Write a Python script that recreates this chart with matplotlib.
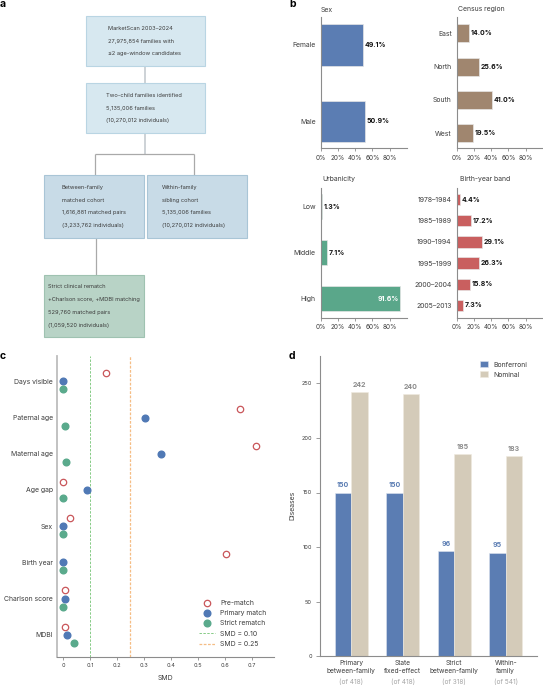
import matplotlib
matplotlib.use("Agg")
import matplotlib.pyplot as plt
from matplotlib.patches import Rectangle
from matplotlib.lines import Line2D
from matplotlib.transforms import IdentityTransform
import numpy as np

plt.rcParams['font.family'] = ['Inter', 'DejaVu Sans']
W, H = 543, 685
DPI = 100
FS = 4.95
FS_BOX = 4.08
FS_TICK = 4.6
FS_SMALL = 4.0
TXT = '#3c3c3c'
SPINE = '#8c8c8c'

# panel b data
sex_cats = ['Female', 'Male']
sex_vals = [49.1, 50.9]
region_cats = ['East', 'North', 'South', 'West']
region_vals = [14.0, 25.6, 41.0, 19.5]
urban_cats = ['Low', 'Middle', 'High']
urban_vals = [1.3, 7.1, 91.6]
birth_cats = ['1978–1984', '1985–1989', '1990–1994', '1995–1999', '2000–2004', '2005–2013']
birth_vals = [4.4, 17.2, 29.1, 26.3, 15.8, 7.3]

# panel c data
smd_cats = ['Days visible', 'Paternal age', 'Maternal age', 'Age gap', 'Sex', 'Birth year', 'Charlson score', 'MDBI']
smd_pre = [0.16, 0.655, 0.715, 0.0, 0.027, 0.603, 0.007, 0.007]
smd_primary = [0.0, 0.303, 0.363, 0.088, 0.0, 0.0, 0.007, 0.014]
smd_strict = [0.0, 0.009, 0.012, 0.0, 0.0, 0.0, 0.0, 0.042]

# panel d data
d_cats = ['Primary\nbetween-family', 'State\nfixed-effect', 'Strict\nbetween-family', 'Within-\nfamily']
d_totals = ['(of 418)', '(of 418)', '(of 318)', '(of 541)']
d_bonf = [150, 150, 96, 95]
d_nom = [242, 240, 185, 183]

fig = plt.figure(figsize=(W / DPI, H / DPI), dpi=DPI, facecolor='white')


def axpx(x0, y0, x1, y1):
    return fig.add_axes([x0 / W, 1 - y1 / H, (x1 - x0) / W, (y1 - y0) / H])


def ftext(x, y, s, **kw):
    kw.setdefault('fontsize', FS)
    kw.setdefault('color', TXT)
    kw.setdefault('va', 'center')
    fig.text(x / W, 1 - y / H, s, **kw)


for x, y, s in [(0, 4, 'a'), (289, 4, 'b'), (0, 356, 'c'), (289, 356, 'd')]:
    ftext(x, y, s, fontsize=7.5, fontweight='bold', color='black')

# panel a : flow diagram in pixel space
fl = fig.add_axes([0, 0, 1, 1], zorder=0)
fl.set_xlim(0, W)
fl.set_ylim(H, 0)
fl.axis('off')
conn = '#a9a9a9'
for xs, ys, c, lw in [([145, 145], [66, 83], '#c9cfd3', 1.3), ([145, 145], [133, 154], '#c9cfd3', 1.3),
                      ([95, 194], [154, 154], conn, 0.9), ([95, 95], [154, 175], conn, 0.9),
                      ([194, 194], [154, 175], conn, 0.9), ([95.5, 95.5], [238, 275], conn, 0.9)]:
    fl.plot(xs, ys, color=c, lw=lw, solid_capstyle='butt', zorder=1)
boxes = [
    (85.5, 16, 119, 50, '#d7e8f0', '#b9d5e3', 108, ['MarketScan 2003–2024', '27,975,854 families with', '≤2 age-window candidates']),
    (85.5, 83, 119, 50, '#d7e8f0', '#b9d5e3', 106, ['Two-child families identified', '5,135,006 families', '(10,270,012 individuals)']),
    (43.5, 175, 100, 63, '#c8dbe7', '#a9c5d6', 62, ['Between-family', 'matched cohort', '1,616,881 matched pairs', '(3,233,762 individuals)']),
    (146.5, 175, 100, 63, '#c8dbe7', '#a9c5d6', 162, ['Within-family', 'sibling cohort', '5,135,006 families', '(10,270,012 individuals)']),
    (43.5, 275, 100, 62, '#b8d3c6', '#9fc2b1', 48, ['Strict clinical rematch', '+Charlson score, +MDBI matching', '529,760 matched pairs', '(1,059,520 individuals)']),
]
for x, y, w, h, fc, ec, tx, lines in boxes:
    fl.add_patch(Rectangle((x, y), w, h, fc=fc, ec=ec, lw=0.8, zorder=2))
    n = len(lines)
    cy = y + h / 2
    for i, s in enumerate(lines):
        fl.text(tx, cy + (i - (n - 1) / 2) * 12.7, s, fontsize=FS_BOX, color=TXT, va='center', ha='left', zorder=3)


def style(ax):
    for s in ['top', 'right']:
        ax.spines[s].set_visible(False)
    for s in ['left', 'bottom']:
        ax.spines[s].set_color(SPINE)
        ax.spines[s].set_linewidth(0.8)
    ax.tick_params(colors=TXT, labelsize=FS_TICK, width=0.6, length=2, color=SPINE, pad=2.5)


def hbar(box, cats, vals, color, title, title_x, title_y, ylim):
    ax = axpx(*box)
    y = np.arange(len(cats))
    ax.barh(y, vals, height=0.54, color=color, edgecolor='#e6e6e6', linewidth=0.5)
    ax.set_ylim(*ylim)
    ax.set_xlim(0, (box[2] - box[0]) / 0.865)
    ax.set_yticks(y, cats)
    ax.set_xticks([0, 20, 40, 60, 80], ['0%', '20%', '40%', '60%', '80%'])
    style(ax)
    ax.tick_params(axis='y', length=0, pad=3.5, labelsize=FS)
    for yi, v in zip(y, vals):
        if v > 80:
            ax.text(v - 1, yi, f'{v:.1f}%', fontsize=FS, fontweight='bold', color='white', ha='right', va='center')
        else:
            ax.text(v + 2, yi, f'{v:.1f}%', fontsize=FS, fontweight='bold', color='#111111', ha='left', va='center')
    ftext(title_x, title_y, title)
    return ax


hbar((320.5, 17, 406.7, 148.3), sex_cats, sex_vals, '#5b7db3', 'Sex', 321, 9.5, (1.354, -0.367))
hbar((456.5, 17, 542.7, 148.3), region_cats, region_vals, '#a0866f', 'Census region', 458, 9.5, (3.45, -0.49))
hbar((320.5, 187.7, 406.7, 318), urban_cats, urban_vals, '#5aa78a', 'Urbanicity', 322, 178.5, (2.42, -0.41))
hbar((456.5, 187.7, 542.7, 318), birth_cats, birth_vals, '#c95f5f', 'Birth-year band', 460, 178.5, (5.59, -0.557))

# panel c
ax = axpx(57.5, 356, 273.5, 656.7)
rows = np.arange(len(smd_cats))
off = 0.222
GREEN_L = '#86cb86'
ORANGE_L = '#f5bd85'
ax.axvline(0.10, color=GREEN_L, ls='--', lw=0.7, dashes=(2.5, 1.5))
ax.axvline(0.25, color=ORANGE_L, ls='--', lw=0.9, dashes=(2.2, 1.2))
ms = 4.8
pre_kw = dict(marker='o', mfc='white', mec='#c9565a', mew=0.9, ms=4.6, ls='none')
ax.plot(smd_pre, rows - off, clip_on=False, **pre_kw)
ax.plot(smd_primary, rows, 'o', color='#5079b5', ms=ms, ls='none', clip_on=False)
ax.plot(smd_strict, rows + off, 'o', color='#5aaa8c', ms=ms, ls='none', clip_on=False)
ax.set_xlim(-0.0204, 0.78)
ax.set_ylim(7 + 22 / 36.2, -25.3 / 36.2)
ax.set_yticks(rows, smd_cats)
ax.set_xticks(np.arange(0, 0.71, 0.1), ['0', '0.1', '0.2', '0.3', '0.4', '0.5', '0.6', '0.7'])
style(ax)
ax.spines['left'].set_color('#bdbdbd')
ax.spines['left'].set_linewidth(1.3)
ax.tick_params(axis='y', length=0, pad=3.5, labelsize=FS)
ax.tick_params(axis='x', labelsize=FS_SMALL)
ftext(165.5, 678, 'SMD', ha='center', fontsize=FS)
handles = [
    Line2D([], [], **pre_kw),
    Line2D([], [], marker='o', color='#5079b5', ms=ms, ls='none'),
    Line2D([], [], marker='o', color='#5aaa8c', ms=ms, ls='none'),
    Line2D([], [], color=GREEN_L, ls='--', lw=0.7, dashes=(2.5, 1.5)),
    Line2D([], [], color=ORANGE_L, ls='--', lw=0.9, dashes=(2.2, 1.2)),
]
ax.legend(handles, ['Pre-match', 'Primary match', 'Strict rematch', 'SMD = 0.10', 'SMD = 0.25'],
          frameon=False, fontsize=FS, loc='lower right', bbox_to_anchor=(266.5, H - 647),
          bbox_transform=IdentityTransform(),
          handlelength=2.35, handletextpad=0.73, labelspacing=0.62, labelcolor=TXT,
          borderpad=0, borderaxespad=0)

# panel d
ax = axpx(320.3, 356, 536.7, 656.3)
x = np.arange(len(d_cats))
bw = 0.317
ax.bar(x - bw / 2, d_bonf, bw, color='#5b7db3', edgecolor='#dde4ee', linewidth=0.4, label='Bonferroni')
ax.bar(x + bw / 2, d_nom, bw, color='#d4cbb9', edgecolor='#efeadf', linewidth=0.4, label='Nominal')
for xi, v in zip(x, d_bonf):
    ax.text(xi - bw / 2, v + 4, str(v), ha='center', va='bottom', fontsize=5.0, fontweight='bold', color='#5b7db3')
for xi, v in zip(x, d_nom):
    ax.text(xi + bw / 2, v + 4, str(v), ha='center', va='bottom', fontsize=5.0, fontweight='bold', color='#8a8a8a')
ax.set_xlim(-0.6, 3.6)
ax.set_ylim(0, 275)
ax.set_yticks([0, 50, 100, 150, 200, 250])
ax.set_xticks(x, d_cats)
style(ax)
ax.tick_params(axis='x', length=0, pad=2.5, labelsize=4.75, labelcolor=TXT)
ax.tick_params(axis='y', labelsize=FS_SMALL, pad=3, length=3)
for lab in ax.get_xticklabels():
    lab.set_linespacing(1.5)
for xi, s in zip(x, d_totals):
    ftext(320.3 + (xi + 0.6) * 51.5, 681.5, s, ha='center', color='#a5a5a5', fontsize=4.75)
ftext(292.5, 505.5, 'Diseases', rotation=90, ha='center', fontsize=FS)
ax.legend(frameon=False, fontsize=FS, loc='upper right', bbox_to_anchor=(527, H - 361),
          bbox_transform=IdentityTransform(), handlelength=1.05, handleheight=1.05,
          handletextpad=0.8, labelspacing=0.5, labelcolor=TXT, borderpad=0, borderaxespad=0)

fig.savefig('out.png', dpi=DPI)
